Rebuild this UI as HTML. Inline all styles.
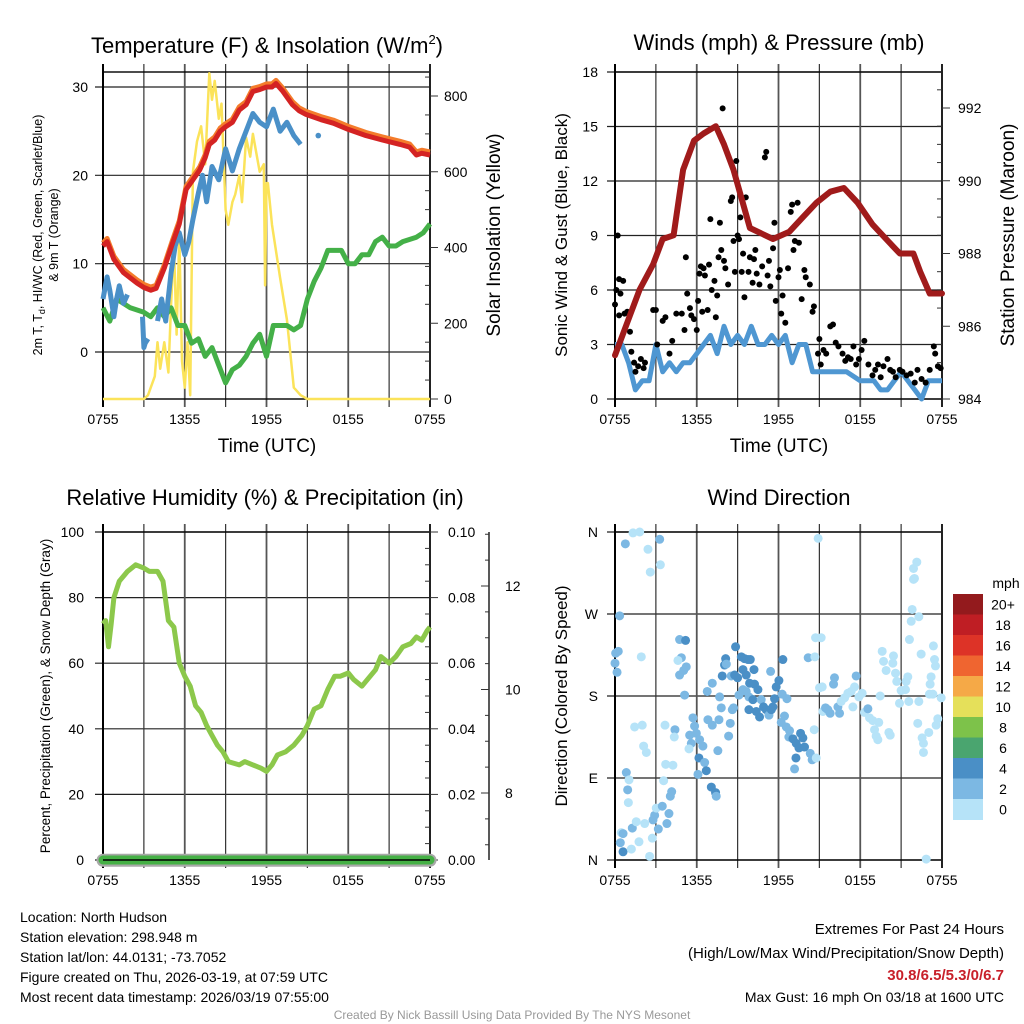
<!DOCTYPE html>
<html><head><meta charset="utf-8"><style>
html,body{margin:0;padding:0;background:#fff}
svg{display:block;font-family:"Liberation Sans",sans-serif}
</style></head><body>
<svg id="c" width="1024" height="1024" viewBox="0 0 1024 1024"></svg>
<script>
// ---------------- DATA ----------------
const xTickLabels = ["0755","1355","1955","0155","0755"];
// Temperature panel (hours since 0755)
const tempHours = [0,0.3,0.8,1.5,2.5,3,3.5,3.9,4.5,5.1,5.6,6.1,6.6,7.1,7.5,7.8,8.2,8.6,9,9.5,10,10.5,11,11.5,12,12.4,12.7,13.2,13.9,14.4,14.9,16,16.9,18,19.3,20.5,21.8,22.5,23,23.4,24];
const tempF = [12,12.5,10.5,9,7.8,7.3,7,7.2,9.5,12.3,14.5,18.4,19.5,20.6,22,23.5,24,25,25.5,26,27.4,28,29.5,29.7,30,30,30.4,29.5,28,27.3,26.9,26.3,25.9,25.2,24.5,24,23.5,23.2,22.3,22.5,22.3];
const chillHours = [0,0.3,0.5,0.8,1,1.2,1.5,1.8,null,2.9,3,3.1,3.3,null,4,4.3,4.6,5,5.3,5.6,6,6.3,6.6,7,7.3,7.6,8,8.5,9,9.5,10,10.5,11,11.5,12,12.5,13,13.5,14,14.5];
const chillF = [6,8.5,7,4,6,7.5,5.5,6.5,null,4,0.5,1,1.5,null,3.5,6,3.5,9,12,13.5,11,12.5,15,18,20,17,21,19.5,23,20.5,23,25,27,26,25.5,27.5,25,26,24.5,23.5];
const dewHours = [0,0.5,1,2,3,3.5,4,4.5,5,5.5,6,6.5,7,7.5,8,8.5,9,9.5,10,10.5,11,11.5,12,12.5,13,13.5,14,14.5,15,15.5,16,16.5,17,17.5,18,18.5,19,19.5,20,20.5,21,21.5,22,23,23.5,24];
const dewF = [5,3.5,6,5,4.5,4,5,4,5,3,3,1,1.5,-0.5,0.5,-1.5,-3.5,-2,-1.5,-0.5,1,2,-0.5,3,3,3,2.5,3,6,8,9.5,11.5,11.5,11.5,10,10,11,11,12.5,13,12,12,12.5,13,13.5,14.5];
const solarHours = [0,3,3.3,3.8,4,4.2,4.5,4.8,5,5.2,5.4,5.6,5.8,6,6.2,6.4,6.6,6.9,7.2,7.5,7.8,8,8.2,8.5,8.7,9,9.2,9.5,9.7,10,10.2,10.5,10.8,11,11.2,11.5,11.8,11.9,12,12.1,12.4,13,13.5,14,14.5,15,24];
const solarW = [0,0,10,60,150,80,150,70,250,410,170,430,100,30,150,10,600,680,720,620,860,790,840,740,780,500,460,520,540,590,520,690,640,700,660,600,620,300,570,570,460,320,210,30,10,0,0];
const chillDot = [15.8,24.5];
// Winds panel
const windHours = [0,0.5,1,1.5,2,2.5,3,3.5,4,4.5,5,5.5,6,6.5,7,7.5,8,8.5,9,9.5,10,10.5,11,11.5,12,12.5,13,13.5,14,14.5,15,16,17,18,19,19.5,20,20.5,21,22,22.5,23,24];
const windMph = [3,3,2,0.5,1,1,3,1.5,2,1.5,2,2,2.5,3,3.5,2.5,4,3,3.5,3,4,3,3,3.5,3,3.5,2,3,3,1.5,1.5,1.5,1.5,1,1,0.5,0.5,1,1.5,0.5,0,1,1];
const presHours = [0,1.8,2.8,3.5,4.3,5,5.8,6.5,7.4,8,8.7,9.9,11.6,12.8,13.8,14.8,15.8,16.8,17.8,18.9,19.9,20.9,21.9,22.4,23.1,24];
const presMb = [985.2,987,987.7,988.4,988.5,990.3,991.1,991.3,991.5,991,990.3,988.7,988.4,988.6,989,989.4,989.7,989.8,989.4,988.8,988.4,988,988,987.5,986.9,986.9];
const gustHours = [0,0.1,0.2,0.3,0.3,0.4,0.6,0.7,0.9,1.1,1.2,1.4,1.5,1.7,1.9,2.1,2.2,2.8,3.0,3.1,3.5,3.7,4,4.2,4.5,4.9,5.1,5.2,5.3,5.5,5.6,5.8,6,6.1,6.2,6.3,6.4,6.5,6.6,6.8,6.9,7,7.1,7.3,7.4,7.5,7.6,7.7,7.8,7.9,8.0,8.1,8.3,8.5,8.6,8.7,8.8,8.9,9.0,9.1,9.2,9.3,9.4,9.5,9.6,9.8,9.9,10.1,10.2,10.3,10.4,10.6,10.8,11,11.1,11.2,11.3,11.4,11.6,11.7,11.8,12,12.1,12.2,12.3,12.5,12.7,12.9,13,13.1,13.2,13.4,13.5,13.7,13.9,14,14.3,14.5,14.6,14.9,15,15.1,15.3,15.5,15.8,16,16.2,16.4,16.7,16.9,17.1,17.3,17.5,17.7,17.9,18.1,18.3,18.6,18.9,19.1,19.3,19.5,19.7,20,20.2,20.4,20.6,20.9,21.1,21.4,21.7,22,22.2,22.5,22.8,23.1,23.4,23.5,23.7,23.9];
const gustMph = [5.2,6,9,6.6,4.6,5.8,6.5,4.7,4.8,3.7,2.6,2,1.5,1.8,2.2,1.7,2,4.9,4.9,3,4.3,4.5,2.5,3.2,4.7,4.7,3.8,7.8,5.8,5,4.6,4.4,3.8,5.4,6.9,7.3,4.8,7.2,6.8,4.9,7.4,9.9,6,6.5,4.5,5.7,7.8,9.7,8.2,16,7.6,7.2,6.3,10.9,11.1,8.7,7,13.1,9,8.8,10,7,8,5.6,11.1,7,7.8,6.4,7.7,8.2,6.9,6.3,7.3,13.3,13.6,6.8,7.6,6.2,8.3,9.7,5.4,6.7,7.1,4.7,5.7,4.2,7.2,10.3,10.7,8.2,8.7,10.8,8.6,5.5,7.1,6.7,6.3,4.8,5.1,2.5,3.3,1.9,2.7,2.5,4,4.1,3.1,2.9,2.5,2.1,2.3,2.2,2.9,1.9,2.2,2.7,3.2,1.9,1.3,1.6,1.9,1.2,1.8,2.2,1.6,1.5,1.2,1.6,1.5,1.3,1.4,0.9,1.6,1.1,0.9,1.6,2.9,2.5,1.8,1.7];
// RH panel
const rhHours = [0,0.2,0.4,0.6,0.8,1.2,1.8,2.4,3,3.4,4,4.4,4.8,5.2,5.6,6,6.4,6.8,7.2,7.6,8,8.4,8.8,9.2,10,10.4,11,11.6,12,12.4,12.8,13.4,14,14.6,15,15.5,16,16.5,17,17.4,18,18.4,19,19.6,20,20.4,21,21.5,22,22.6,23,23.4,23.8,24];
const rhPct = [72,73,65,72,80,85,88,90,89,88,88,85,73,71,60,56,53,47,45,41,38,35,33,30,29,30,29,28,27,29,32,33,35,38,41,46,47,52,56,56,57,55,53,56,58,62,60,62,65,66,68,67,70,71];
const precipIn = [0,0];
const snowDepth = 6.7;
// Wind direction panel
const dirHours = [0,0.05,0.15,0.24,0.34,0.76,1.32,1.81,2.42,2.59,3.28,3.33,1.93,1.44,2.0,2.1,2.3,3.67,4.4,4.35,3.72,4.25,3.57,0.83,1.03,0.93,0.98,0.46,0.59,0.39,0.59,1.2,1.27,1.56,1.76,2.18,2.54,2.74,2.79,2.91,3.03,3.18,3.47,3.81,3.96,4.06,4.16,4.74,5.18,4.87,4.62,5.23,5.04,4.74,5.11,5.72,5.84,5.48,5.6,5.43,5.97,6.21,6.45,6.16,6.58,6.09,6.7,7.07,7.38,7.43,7.55,6.82,7.14,7.63,7.8,7.68,7.14,6.77,8.34,8.46,8.61,8.7,7.87,8.04,8.12,8.17,8.53,8.78,8.85,9.0,9.1,9.27,9.39,9.51,9.63,9.76,9.93,10.2,9.88,10.24,10.49,9.39,9.63,9.83,10.12,9.83,10.37,10.61,10.73,10.9,11.1,11.3,11.47,11.71,11.59,11.83,12.03,11.42,12.32,12.27,12.62,12.44,12.2,12.57,12.81,12.76,13.06,13.3,13.62,13.79,13.5,13.91,13.28,13.18,14.18,14.33,14.47,14.77,14.62,14.72,15.13,14.67,14.91,15.01,15.21,15.26,15.45,15.62,15.79,16.11,16.04,16.36,16.48,16.6,16.85,17.09,17.33,17.58,17.7,17.9,18.14,17.46,18.31,18.56,18.68,18.92,19.36,19.05,19.17,19.29,19.46,19.61,19.71,19.9,20.1,20.2,20.39,20.44,20.59,20.68,20.88,21.0,21.32,21.37,21.49,21.56,21.61,21.74,21.81,21.91,21.98,21.91,22.15,22.3,22.3,22.22,22.47,22.54,22.64,22.64,22.84,23.03,23.08,23.2,23.13,23.37,23.45,23.52,23.33,23.57,23.69,23.94];
const dirDeg = [216,227,206,229,268,347,359,360,341,316,352,324,223,146,148,125,118,148,143,135,105,104,87,96,88,77,63,30,29,19,9,12,35,42,20,40,4,24,44,49,57,34,59,40,51,70,75,242,241,222,219,212,208,203,181,156,147,137,128,122,139,132,125,112,107,94,98,80,74,70,120,154,148,154,167,179,194,185,136,150,165,167,202,214,221,215,202,203,234,200,181,223,209,221,203,220,220,209,194,193,187,187,185,179,176,165,163,157,176,168,165,159,165,177,168,190,197,207,220,182,177,158,151,146,142,135,133,128,139,134,123,124,112,100,222,117,110,112,143,244,244,223,353,189,190,163,167,165,161,200,193,168,161,174,178,183,185,190,202,179,183,168,162,166,156,153,151,143,136,132,180,229,218,208,140,137,216,224,205,196,172,186,187,196,201,174,242,262,275,308,309,320,327,267,174,150,226,134,128,118,1,140,182,201,193,235,220,213,182,148,155,178];
const dirSpeed = [3,3,3,3,3,3,1,1,1,1,3,1,1,1,1,1,1,1,3,1,1,1,1,3,1,3,1,1,3,3,5,1,3,1,1,1,1,1,3,3,1,3,3,3,3,3,3,3,5,3,1,3,3,3,3,3,3,3,3,1,3,3,3,5,3,3,5,5,5,3,3,3,3,3,3,3,3,3,3,3,3,3,5,5,5,3,3,5,5,5,3,5,5,5,5,5,5,5,5,5,5,3,3,3,5,5,5,5,3,5,5,3,5,5,5,5,5,3,5,3,3,3,3,3,3,3,5,5,5,5,5,5,5,3,3,3,3,1,1,1,1,1,1,1,1,1,3,3,3,3,3,3,3,1,1,1,1,1,3,1,1,1,1,3,1,1,1,1,1,1,1,1,1,1,1,1,1,1,1,1,1,1,1,1,1,1,1,1,1,1,1,1,1,1,1,1,1,1,1,1,1,1,1,1,1,1,1,1,1,1,1,1,1,1,1,1];
const cbLabels = ["20+","18","16","14","12","10","8","6","4","2","0"];
const cbColors = ["#931a1d","#bf1e24","#dd3327","#ef6530","#f5a947","#e5e05a","#7dc24a","#4aa56f","#4a8fc6","#7cb8e3","#b6e3f8"];

// ---------------- DRAW ----------------
const NS="http://www.w3.org/2000/svg";
const svg=document.getElementById('c');
function el(tag,attrs,parent){const e=document.createElementNS(NS,tag);for(const k in attrs)e.setAttribute(k,attrs[k]);(parent||svg).appendChild(e);return e;}
function txt(s,x,y,size,anchor,parent,extra){const t=el('text',Object.assign({x:x,y:y,'font-size':size,'text-anchor':anchor||'middle',fill:'#000'},extra||{}),parent);t.textContent=s;return t;}
function lin(d0,d1,r0,r1){return v=>r0+(v-d0)*(r1-r0)/(d1-d0);}
function pathFrom(xs,ys,fx,fy){let d='',pen=false;for(let i=0;i<xs.length;i++){if(xs[i]===null||ys[i]===null){pen=false;continue;}d+=(pen?'L':'M')+fx(xs[i]).toFixed(1)+','+fy(ys[i]).toFixed(1);pen=true;}return d;}

function frame(g,L,T,R,B,yTicks,fy){
  yTicks.forEach(v=>{el('line',{x1:L-8,x2:R,y1:fy(v),y2:fy(v),stroke:'#222','stroke-width':1.2},g);});
  for(let i=0;i<=8;i++){const x=L+(R-L)*i/8;el('line',{x1:x,x2:x,y1:T-8,y2:B+8,stroke:i%2?'#333':'#555','stroke-width':i%2?1.2:1.8},g);}
  el('rect',{x:L,y:T,width:R-L,height:B-T,fill:'none',stroke:'#000','stroke-width':1.4},g);
  el('line',{x1:L,x2:L,y1:T-8,y2:B+8,stroke:'#000','stroke-width':2},g);
  el('line',{x1:R,x2:R,y1:T-8,y2:B+8,stroke:'#222','stroke-width':2},g);
}
function xLabels(g,L,R,y){xTickLabels.forEach((s,i)=>{txt(s,L+(R-L)*i/4,y,14,'middle',g);});}

// ===== Panel 1 Temperature =====
{
const g=el('g',{});


const L=103,R=430,T=72,B=399;
const fx=lin(0,24,L,R), fy=lin(0,30,352,87), fs=lin(0,800,399,96);
frame(g,L,T,R,B,[0,10,20,30],fy);
for(let w=0;w<=850;w+=50){el('line',{x1:R-(w%200?5:0),x2:R+(w%200===0?8:0),y1:fs(w),y2:fs(w),stroke:'#333','stroke-width':1},g);}
const sy=el('path',{d:pathFrom(solarHours,solarW,fx,fs),fill:'none',stroke:'#fbe35a','stroke-width':2.5,'stroke-linejoin':'round'},g);

const dw=el('path',{d:pathFrom(dewHours,dewF,fx,fy),fill:'none',stroke:'#44b048','stroke-width':5,'stroke-linejoin':'round'},g);

const orng=el('path',{d:pathFrom(tempHours,tempF.map(v=>v+0.35),fx,fy),fill:'none',stroke:'#f47c2b','stroke-width':5,'stroke-linejoin':'round'},g);

const ch=el('path',{d:pathFrom(chillHours,chillF,fx,fy),fill:'none',stroke:'#4a90c8','stroke-width':5,'stroke-linejoin':'round'},g);

el('circle',{cx:fx(chillDot[0]),cy:fy(chillDot[1]),r:2.8,fill:'#4a90c8'},g);
const rd=el('path',{d:pathFrom(tempHours,tempF,fx,fy),fill:'none',stroke:'#d42323','stroke-width':5,'stroke-linejoin':'round'},g);

[0,10,20,30].forEach(v=>txt(String(v),88,fy(v)+5,14,'end',g));
[0,200,400,600,800].forEach(v=>txt(String(v),444,fs(v)+5,14,'start',g));
xLabels(g,L,R,424);
const t=txt('Time (UTC)',267,452,19,'middle',g);
const ti=el('text',{x:267,y:53,'font-size':22,'text-anchor':'middle'},g);
ti.innerHTML='Temperature (F) &amp; Insolation (W/m<tspan dy="-9" font-size="13">2</tspan><tspan dy="9">)</tspan>';

const yl=el('text',{transform:'translate(42,235) rotate(-90)','font-size':12.5,'text-anchor':'middle'},g);
yl.innerHTML='2m T, T<tspan dy="3" font-size="9">d</tspan><tspan dy="-3">, HI/WC (Red, Green, Scarlet/Blue)</tspan>';

txt('& 9m T (Orange)',0,0,12.5,'middle',g,{transform:'translate(58,235) rotate(-90)'});
const yr=txt('Solar Insolation (Yellow)',0,0,19,'middle',g,{transform:'translate(500,235) rotate(-90)'});

}

// ===== Panel 2 Winds =====
{
const g=el('g',{});


const L=615,R=942,T=72,B=399;
const fx=lin(0,24,L,R), fy=lin(0,18,399,72), fp=lin(984,992,399,108);
frame(g,L,T,R,B,[0,3,6,9,12,15,18],fy);
for(let p=984;p<=992.9;p+=0.5){el('line',{x1:R-(Math.round(p*2)%4?5:0),x2:R+(Math.round(p*2)%4===0?8:0),y1:fp(p),y2:fp(p),stroke:'#333','stroke-width':1},g);}
const wl=el('path',{d:pathFrom(windHours,windMph,fx,fy),fill:'none',stroke:'#4f97d2','stroke-width':5,'stroke-linejoin':'round'},g);

for(let i=0;i<gustHours.length;i++){
  const c=el('circle',{cx:fx(gustHours[i]),cy:fy(gustMph[i]),r:3,fill:'#000'},g);
  
  
}
const pl=el('path',{d:pathFrom(presHours,presMb,fx,fp),fill:'none',stroke:'#a01b1b','stroke-width':6,'stroke-linejoin':'round','stroke-linecap':'round'},g);

[0,3,6,9,12,15,18].forEach(v=>txt(String(v),598,fy(v)+5,14,'end',g));
[984,986,988,990,992].forEach(v=>txt(String(v),958,fp(v)+5,14,'start',g));
xLabels(g,L,R,424);
const t=txt('Time (UTC)',779,452,19,'middle',g);
const ti=txt('Winds (mph) & Pressure (mb)',779,50,22,'middle',g);
const yl=txt('Sonic Wind & Gust (Blue, Black)',0,0,17,'middle',g,{transform:'translate(567,235) rotate(-90)'});

const yr=txt('Station Pressure (Maroon)',0,0,19,'middle',g,{transform:'translate(1014,235) rotate(-90)'});

}

// ===== Panel 3 RH =====
{
const g=el('g',{});


const L=103,R=430,T=532,B=860;
const fx=lin(0,24,L,R), fy=lin(0,100,860,532), fpr=lin(0,0.1,860,532), fsn=lin(8,12,793,586);
frame(g,L,T,R,B,[0,20,40,60,80,100],fy);
for(let v=0;v<=100;v+=5){el('line',{x1:R-(v%20?5:0),x2:R+(v%20===0?8:0),y1:fy(v),y2:fy(v),stroke:'#333','stroke-width':1},g);}
el('line',{x1:489,x2:489,y1:532,y2:860,stroke:'#222','stroke-width':1.5},g);
for(let v=7;v<=13;v+=0.5){el('line',{x1:489-(v%2===0?8:4),x2:489,y1:fsn(v),y2:fsn(v),stroke:'#333','stroke-width':1},g);}
[8,10,12].forEach(v=>txt(String(v),505,fsn(v)+5,14,'start',g));
const rl=el('path',{d:pathFrom(rhHours,rhPct,fx,fy),fill:'none',stroke:'#8cc84b','stroke-width':5,'stroke-linejoin':'round'},g);

const sn=el('line',{x1:fx(0),x2:fx(24),y1:fsn(snowDepth),y2:fsn(snowDepth),stroke:'#a8a8a8','stroke-width':13,'stroke-linecap':'round'},g);

const pr=el('line',{x1:fx(0),x2:fx(24),y1:fpr(precipIn[0]),y2:fpr(precipIn[1]),stroke:'#45b045','stroke-width':9,'stroke-linecap':'round'},g);

el('line',{x1:L,x2:R,y1:B,y2:B,stroke:'#000','stroke-width':1.4},g);
[0,20,40,60,80,100].forEach(v=>txt(String(v),84,fy(v)+5,14,'end',g));
[0,0.02,0.04,0.06,0.08,0.1].forEach(v=>txt(v.toFixed(2),448,fpr(v)+5,14,'start',g));
xLabels(g,L,R,885);
const ti=txt('Relative Humidity (%) & Precipitation (in)',265,505,22,'middle',g);
const yl=txt('Percent, Precipitation (Green), & Snow Depth (Gray)',0,0,13.5,'middle',g,{transform:'translate(50,696) rotate(-90)'});

}

// ===== Panel 4 Wind direction =====
{
const g=el('g',{});


const L=615,R=942,T=532,B=860;
const fx=lin(0,24,L,R), fy=lin(0,360,860,532);
frame(g,L,T,R,B,[0,90,180,270,360],fy);
function colorFor(s){const idx=Math.min(10,Math.floor(s/2));return cbColors[10-idx];}
for(let i=0;i<dirHours.length;i++){
  const c=el('circle',{cx:fx(dirHours[i]),cy:fy(dirDeg[i]),r:4.5,fill:colorFor(dirSpeed[i])},g);
  
  
}
["N","E","S","W","N"].forEach((s,i)=>txt(s,598,fy(i*90)+5,14,'end',g));
xLabels(g,L,R,885);
const ti=txt('Wind Direction',779,505,22,'middle',g);
const yl=txt('Direction (Colored By Speed)',0,0,17,'middle',g,{transform:'translate(567,696) rotate(-90)'});

const cb=el('g',{},g);

const h=20.5;
cbColors.forEach((col,i)=>{el('rect',{x:953,y:594+i*h,width:30,height:h+0.5,fill:col},cb);});
cbLabels.forEach((s,i)=>txt(s,1003,594+i*h+h/2+5,14,'middle',cb));
txt('mph',1006,588,14,'middle',cb);
}

// ===== Footer =====
{
const g=el('g',{});


["Location: North Hudson","Station elevation: 298.948 m","Station lat/lon: 44.0131; -73.7052","Figure created on Thu, 2026-03-19, at 07:59 UTC","Most recent data timestamp: 2026/03/19 07:55:00"].forEach((s,i)=>txt(s,20,922+i*20,14,'start',g));
txt('Extremes For Past 24 Hours',1004,934,15,'end',g);
txt('(High/Low/Max Wind/Precipitation/Snow Depth)',1004,958,15,'end',g);
txt('30.8/6.5/5.3/0/6.7',1004,980,15,'end',g,{fill:'#c8202a','font-weight':'bold'});
txt('Max Gust: 16 mph On 03/18 at 1600 UTC',1004,1002,14,'end',g);
txt('Created By Nick Bassill Using Data Provided By The NYS Mesonet',512,1019,12,'middle',g,{fill:'#999'});
}
</script>
</body></html>
